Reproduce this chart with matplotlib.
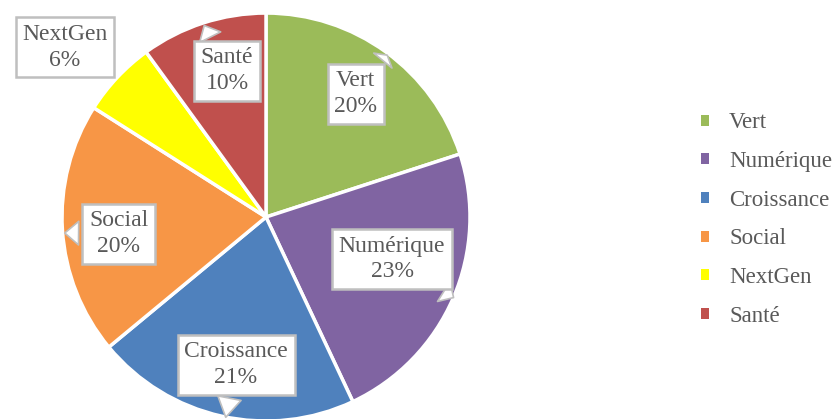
import matplotlib.pyplot as plt

plt.rcParams["font.family"] = ["Liberation Serif", "DejaVu Serif"]

categories = ["Vert", "Numérique", "Croissance", "Social", "NextGen", "Santé"]
values = [20, 23, 21, 20, 6, 10]
colors = ["#9BBB59", "#8064A2", "#4F81BD", "#F79646", "#FFFF00", "#C0504D"]

# label box centres and pointer tips (data units, pie radius = 1)
label_pos = [(0.44, 0.605), (0.618, -0.206), (-0.147, -0.723), (-0.723, -0.081), (-0.985, 0.833), (-0.191, 0.718)]
tip_pos = [(0.603, 0.804), (0.931, -0.402), (-0.20, -0.995), (-1.0, -0.078), None, (-0.309, 0.951)]

text_col = "#595959"
box_col = "#BFBFBF"

fig = plt.figure(figsize=(8.38, 4.19), dpi=100)
ax = fig.add_axes([0, 0, 1, 1])

wedges, _ = ax.pie(
    values,
    colors=colors,
    startangle=90,
    counterclock=False,
    radius=1.0,
    wedgeprops=dict(edgecolor="white", linewidth=2.5),
)

for name, v, (lx, ly), tip in zip(categories, values, label_pos, tip_pos):
    txt = f"{name}\n{v}%"
    bbox = dict(boxstyle="square,pad=0.28", fc="white", ec=box_col, lw=1.8)
    if tip is None:
        ax.text(lx, ly, txt, ha="center", va="center", fontsize=17,
                color=text_col, bbox=bbox, linespacing=1.3)
    else:
        ax.annotate(
            txt, xy=tip, xytext=(lx, ly), ha="center", va="center",
            fontsize=17, color=text_col, bbox=bbox, linespacing=1.3,
            annotation_clip=False,
            arrowprops=dict(arrowstyle="wedge,tail_width=1.0,shrink_factor=0.5",
                            fc="white", ec=box_col, lw=1.2),
        )

ax.set_xlim(-1.304, 2.804)
ax.set_ylim(-0.99, 1.064)
ax.set_aspect("equal")
ax.axis("off")

leg = ax.legend(
    wedges, categories,
    loc="center left",
    bbox_to_anchor=(0.836, 0.476),
    frameon=False,
    fontsize=16.5,
    handlelength=0.35,
    handleheight=0.35,
    handletextpad=0.9,
    labelspacing=0.77,
    borderpad=0,
    borderaxespad=0,
    labelcolor=text_col,
)
for h in leg.legend_handles:
    h.set_edgecolor("none")

fig.savefig("out.png", dpi=100)
